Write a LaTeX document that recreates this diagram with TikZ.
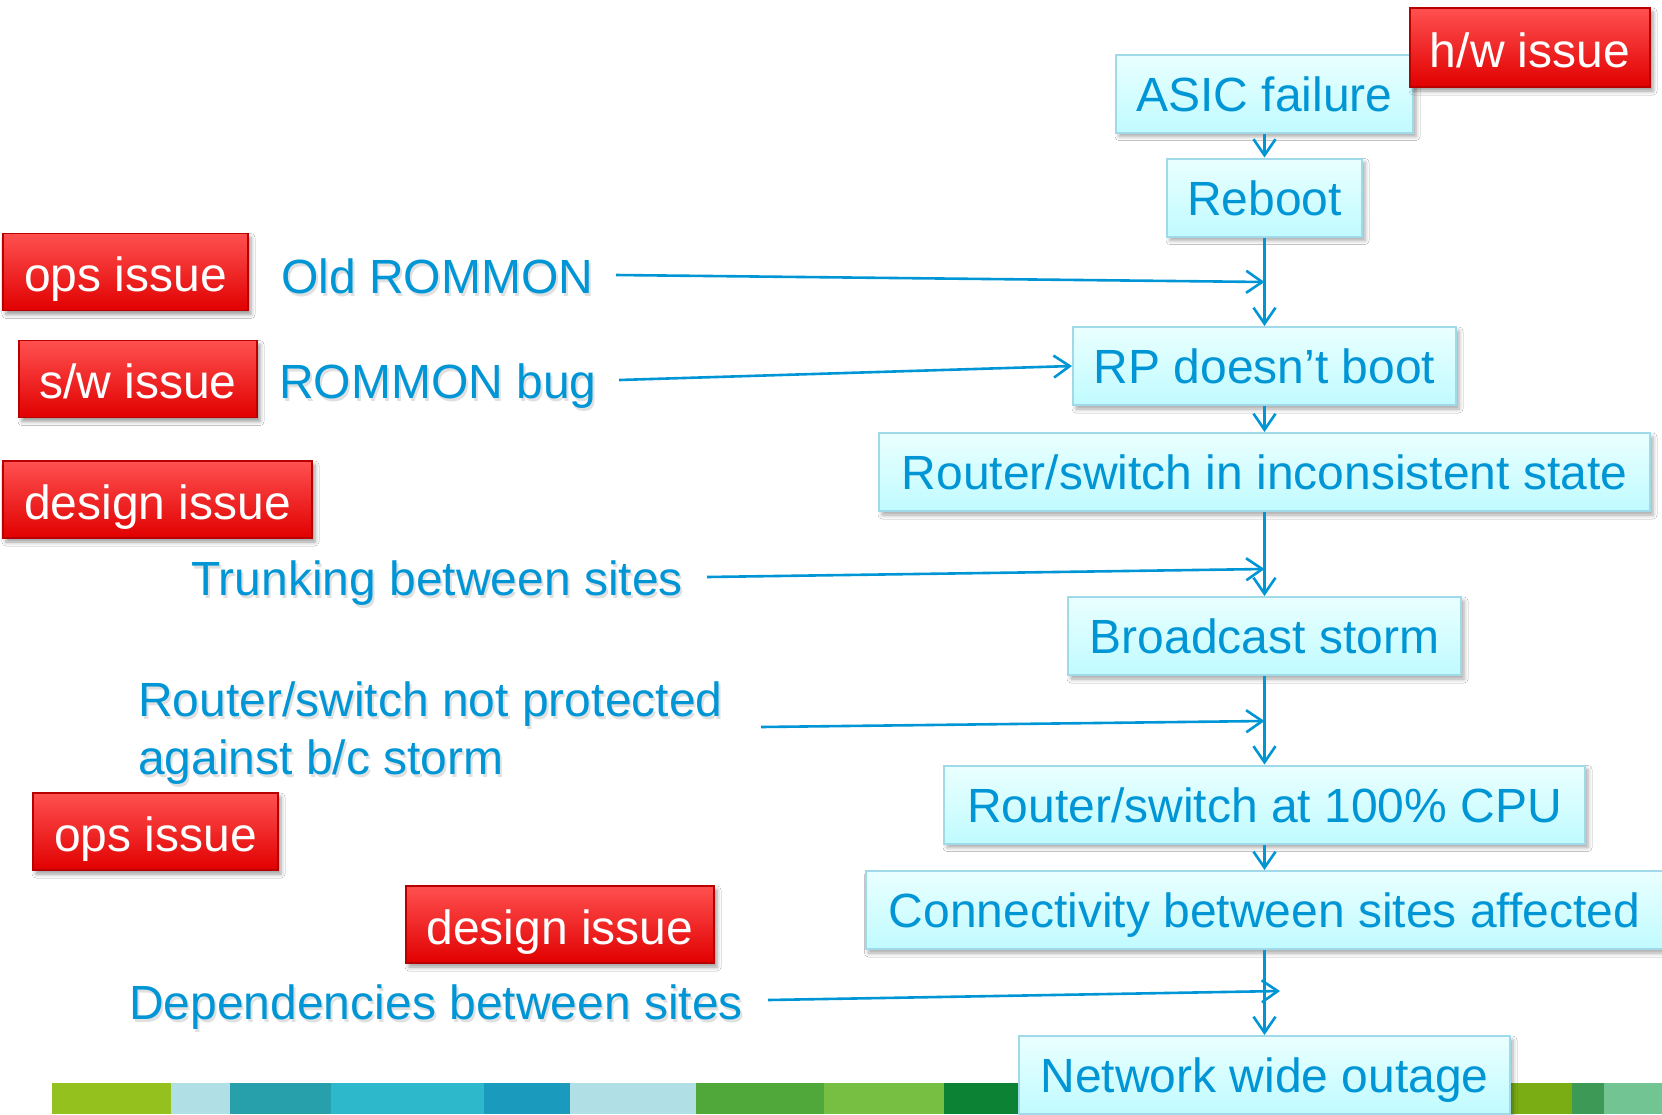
\documentclass[tikz,border=0pt]{standalone}
\usepackage{fontspec}
\setmainfont{Liberation Sans}
\usetikzlibrary{arrows.meta,shadows.blur}

\definecolor{flowtext}{RGB}{0,150,214}
\definecolor{boxtop}{RGB}{234,255,255}
\definecolor{boxbot}{RGB}{192,251,255}
\definecolor{boxline}{RGB}{160,218,232}
\definecolor{issuemid}{RGB}{255,5,5}
\definecolor{issuetop}{RGB}{255,80,80}
\definecolor{issuebot}{RGB}{225,0,0}
\definecolor{issueline}{RGB}{185,0,0}
% colour bars along the bottom edge
\definecolor{barA}{RGB}{149,193,31}
\definecolor{barB}{RGB}{176,223,229}
\definecolor{barC}{RGB}{39,160,172}
\definecolor{barD}{RGB}{45,184,204}
\definecolor{barE}{RGB}{26,155,190}
\definecolor{barF}{RGB}{80,168,59}
\definecolor{barG}{RGB}{119,191,67}
\definecolor{barH}{RGB}{11,130,52}
\definecolor{barI}{RGB}{122,172,20}
\definecolor{barJ}{RGB}{61,154,86}
\definecolor{barK}{RGB}{114,197,146}

\tikzset{
  big/.style={font=\fontsize{48}{58}\selectfont},
  flowbox/.style={big, draw=boxline, line width=2pt, top color=boxtop,
    bottom color=boxbot, text=flowtext, minimum height=78pt, inner sep=0pt,
    text height=35pt, text depth=0pt,
    blur shadow={shadow xshift=3pt, shadow yshift=-4pt,
      shadow blur radius=4pt, shadow opacity=35}},
  issue/.style={big, draw=issueline, line width=1.5pt, top color=issuetop,
    middle color=issuemid, bottom color=issuebot, text=white,
    minimum height=77pt, inner sep=0pt, text height=43pt, text depth=4pt,
    blur shadow={shadow xshift=3pt, shadow yshift=-4pt,
      shadow blur radius=4pt, shadow opacity=40}},
  cause/.style={big, text=flowtext, inner sep=0pt, anchor=base west, align=left},
  causeshade/.style={big, text=black, opacity=0.12, inner sep=0pt,
    anchor=base west, align=left},
  link/.style={draw=flowtext, line width=2.6pt,
    -{Straight Barb[length=16pt,width=22pt]}},
}

\begin{document}
\begin{tikzpicture}[x=1pt,y=-1pt]
\useasboundingbox (0,0) rectangle (1662,1114);
\fill[white] (0,0) rectangle (1662,1114);

% bottom colour bars
\fill[barA] (52,1083) rectangle (171,1114);
\fill[barB] (171,1083) rectangle (230,1114);
\fill[barC] (230,1083) rectangle (331,1114);
\fill[barD] (331,1083) rectangle (484,1114);
\fill[barE] (484,1083) rectangle (570,1114);
\fill[barB] (570,1083) rectangle (696,1114);
\fill[barF] (696,1083) rectangle (824,1114);
\fill[barG] (824,1083) rectangle (944,1114);
\fill[barH] (944,1083) rectangle (1030,1114);
\fill[barI] (1500,1083) rectangle (1572,1114);
\fill[barJ] (1572,1083) rectangle (1604,1114);
\fill[barK] (1604,1083) rectangle (1662,1114);

% chain of events
\node[flowbox, minimum width=297pt] (asic)    at (1264.5,93.5)  {ASIC failure};
\node[flowbox, minimum width=195pt] (reboot)  at (1264.5,197.5) {Reboot};
\node[flowbox, minimum width=383pt] (rp)      at (1264.5,366)   {RP doesn’t boot};
\node[flowbox, minimum width=771pt] (incons)  at (1264.5,472)   {Router/switch in inconsistent state};
\node[flowbox, minimum width=393pt] (storm)   at (1264.5,636)   {Broadcast storm};
\node[flowbox, minimum width=641pt] (cpu)     at (1264.5,804.5) {Router/switch at 100\% CPU};
\node[flowbox, minimum width=798pt] (conn)    at (1264.5,910)   {Connectivity between sites affected};
\node[flowbox, minimum width=491pt] (outage)  at (1264.5,1075)  {Network wide outage};

% issue tags
\node[issue, minimum width=240pt, minimum height=79pt] (hw) at (1530,47.5) {h/w issue};
\node[issue, minimum width=245pt] (opsA)    at (125.5,272)  {ops issue};
\node[issue, minimum width=238pt] (sw)      at (138,379)    {s/w issue};
\node[issue, minimum width=309pt] (designA) at (157.5,499.5){design issue};
\node[issue, minimum width=245pt] (opsB)    at (155.5,831.5){ops issue};
\node[issue, minimum width=308pt] (designB) at (560,924.5)  {design issue};

% contributing causes
\node[causeshade] (oldsh)   at (283,296)  {Old ROMMON};
\node[cause]      (old)     at (281,293)  {Old ROMMON};
\node[causeshade] (bugsh)   at (281,401)  {ROMMON bug};
\node[cause]      (bug)     at (279,398)  {ROMMON bug};
\node[causeshade] (trunksh) at (193,598)  {Trunking between sites};
\node[cause]      (trunk)   at (191,595)  {Trunking between sites};
\node[causeshade] (protsh)  at (140,777)  {Router/switch not protected\\against b/c storm};
\node[cause]      (prot)    at (138,774)  {Router/switch not protected\\against b/c storm};
\node[causeshade] (depsh)   at (131,1022) {Dependencies between sites};
\node[cause]      (dep)     at (129,1019) {Dependencies between sites};

% arrows down the chain
\draw[link] (asic.south)   -- (reboot.north);
\draw[link] (reboot.south) -- (rp.north);
\draw[link] (rp.south)     -- (incons.north);
\draw[link] (incons.south) -- (storm.north);
\draw[link] (storm.south)  -- (cpu.north);
\draw[link] (cpu.south)    -- (conn.north);
\draw[link] (conn.south)   -- (outage.north);

% arrows from the causes into the chain
\coordinate (oldS)   at (616,275);
\coordinate (oldE)   at (1264.5,282);
\coordinate (bugS)   at (619,380);
\coordinate (trunkS) at (707,577);
\coordinate (trunkE) at (1264.5,569);
\coordinate (protS)  at (761,727);
\coordinate (protE)  at (1264.5,721);
\coordinate (depS)   at (768,1000);
\coordinate (depE)   at (1280,991);
\draw[link] (oldS)   -- (oldE);
\draw[link] (bugS)   -- (rp.west);
\draw[link] (trunkS) -- (trunkE);
\draw[link] (protS)  -- (protE);
\draw[link] (depS)   -- (depE);
\end{tikzpicture}
\end{document}
